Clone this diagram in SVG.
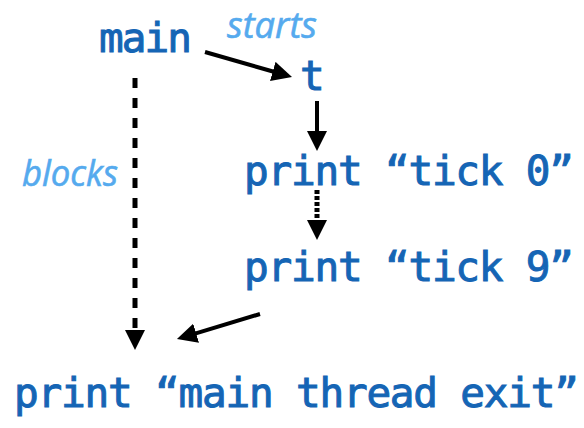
<svg xmlns="http://www.w3.org/2000/svg" width="584" height="428" viewBox="0 0 584 428">
<style>
.code{font-family:"DejaVu Sans Mono","Liberation Mono",monospace;font-size:41px;fill:#1565b5;stroke:#1565b5;stroke-width:1}
.lbl{font-family:"Open Sans","Liberation Sans",sans-serif;font-style:italic;font-size:36px;fill:#55aaee;stroke:#55aaee;stroke-width:0.6}
.c{stroke:#000;stroke-width:4;fill:none;marker-end:url(#ah)}
.dash{stroke-width:5;stroke-dasharray:10 10}
.dot{stroke-width:5;stroke-dasharray:4 2}
</style>
<defs>
<marker id="ah" viewBox="0 0 20 20" refX="2" refY="10" markerWidth="20" markerHeight="20" markerUnits="userSpaceOnUse" orient="auto">
<path d="M0,0 L20,10 L0,20 z" fill="#000"/>
</marker>
</defs>
<rect width="584" height="428" fill="#fff"/>
<g id="connectors">
<line class="c" x1="205" y1="52" x2="274.7" y2="72"/>
<line class="c" x1="317" y1="101" x2="317" y2="133"/>
<line class="c dot" x1="317" y1="190" x2="317" y2="222"/>
<line class="c dash" x1="135" y1="78" x2="135" y2="332"/>
<line class="c" x1="260" y1="314" x2="194.2" y2="333.8"/>
</g>
<g id="label-starts"><text class="lbl" x="227" y="38" textLength="90" lengthAdjust="spacingAndGlyphs">starts</text></g>
<g id="label-blocks"><text class="lbl" x="22" y="186" textLength="96" lengthAdjust="spacingAndGlyphs">blocks</text></g>
<g id="node-main"><text class="code" x="99" y="52" textLength="93">main</text></g>
<g id="node-t"><text class="code" x="300" y="90">t</text></g>
<g id="node-tick0"><text class="code" x="244" y="185" textLength="330">print “tick 0”</text></g>
<g id="node-tick9"><text class="code" x="244" y="281" textLength="330">print “tick 9”</text></g>
<g id="node-exit"><text class="code" x="14" y="407" textLength="565">print “main thread exit”</text></g>
</svg>
